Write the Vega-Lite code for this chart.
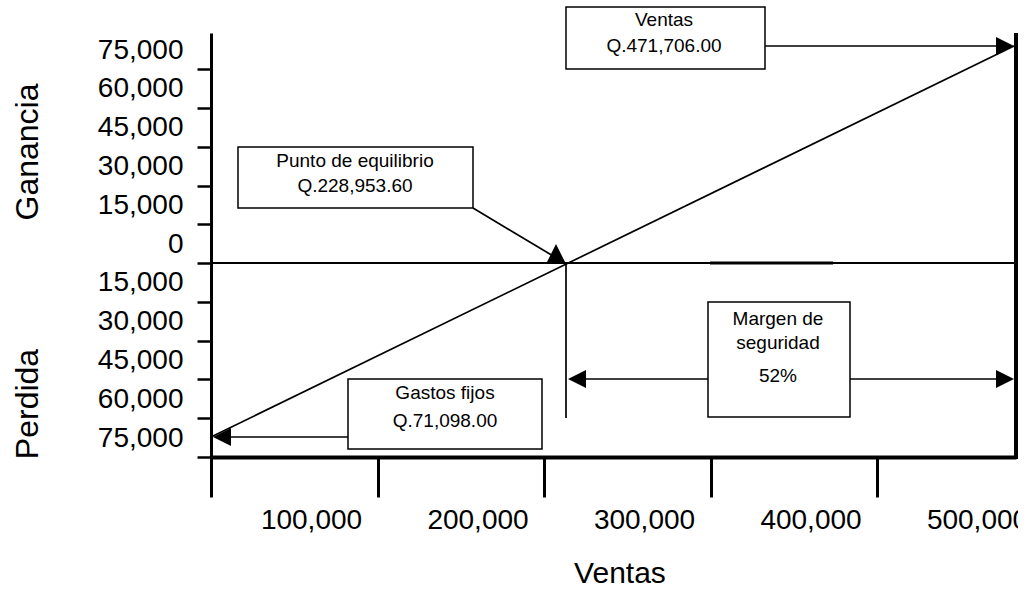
{
  "$schema": "https://vega.github.io/schema/vega-lite/v6.json",
  "width": 805,
  "height": 424,
  "autosize": {"type": "none"},
  "padding": {"left": 211, "top": 33, "right": 2, "bottom": 135},
  "background": "white",
  "config": {"view": {"stroke": null}, "font": "Liberation Sans"},
  "encoding": {
    "x": {
      "field": "x", "type": "quantitative",
      "scale": {"domain": [0, 483483], "nice": false, "zero": false},
      "axis": {
        "values": [0, 100000, 200000, 300000, 400000],
        "labelExpr": "format(datum.value + 100000, ',')",
        "labelOffset": 100, "tickSize": 40, "tickWidth": 3, "tickColor": "black",
        "domainColor": "black", "domainWidth": 4,
        "labelFont": "Liberation Sans", "labelFontSize": 28, "labelColor": "black",
        "labelPadding": 9, "labelFlush": false, "labelOverlap": false, "labelBound": false,
        "grid": false, "title": null
      }
    },
    "y": {
      "field": "y", "type": "quantitative",
      "scale": {"domain": [-75000, 89000], "nice": false, "zero": false},
      "axis": {
        "values": [-75000, -60000, -45000, -30000, -15000, 0, 15000, 30000, 45000, 60000, 75000],
        "labelExpr": "format(abs(datum.value), ',')",
        "labelOffset": -19, "tickSize": 14, "tickWidth": 2.5, "tickColor": "black",
        "domainColor": "black", "domainWidth": 3,
        "labelFont": "Liberation Sans", "labelFontSize": 28, "labelColor": "black",
        "labelPadding": 14, "labelOverlap": false, "labelBound": false, "labelFlush": false,
        "grid": false, "title": null
      }
    }
  },
  "layer": [
    {
      "data": {"values": [{"x": 0, "y": 0, "x2": 485285, "y2": 0}]},
      "mark": {"type": "rule", "color": "black", "strokeWidth": 2},
      "encoding": {"x2": {"field": "x2"}, "y2": {"field": "y2"}}
    },
    {
      "data": {"values": [{"x": 299700, "y": 0, "x2": 373573, "y2": 0}]},
      "mark": {"type": "rule", "color": "black", "strokeWidth": 3},
      "encoding": {"x2": {"field": "x2"}, "y2": {"field": "y2"}}
    },
    {
      "data": {"values": [
        {"x": 0, "y": -67264, "x2": 482282, "y2": 83972},
        {"x": 213213, "y": 0, "x2": 213213, "y2": -59918},
        {"x": 332732, "y": 83972, "x2": 476876, "y2": 83972},
        {"x": 157357, "y": 21310, "x2": 212612, "y2": 0},
        {"x": 219820, "y": -44833, "x2": 476876, "y2": -44833},
        {"x": 82282, "y": -67264, "x2": 6607, "y2": -67264}
      ]},
      "mark": {"type": "rule", "color": "black", "strokeWidth": 1.7},
      "encoding": {"x2": {"field": "x2"}, "y2": {"field": "y2"}}
    },
    {
      "data": {"values": [{"x": 483483, "y": -75800, "x2": 483483, "y2": 89000}]},
      "mark": {"type": "rule", "color": "black", "strokeWidth": 4},
      "encoding": {"x2": {"field": "x2"}, "y2": {"field": "y2"}}
    },
    {
      "data": {"values": [
        {"x": 213213, "x2": 332732, "y": 99057, "y2": 75075},
        {"x": 16216, "x2": 157357, "y": 44905, "y2": 21310},
        {"x": 298498, "x2": 383783, "y": -15049, "y2": -59531},
        {"x": 82282, "x2": 198799, "y": -44833, "y2": -71909}
      ]},
      "mark": {"type": "rect", "fill": "white", "stroke": "black", "strokeWidth": 1.5},
      "encoding": {"x2": {"field": "x2"}, "y2": {"field": "y2"}}
    },
    {
      "data": {"values": [
        {"x": 476876, "y": 83972, "dir": "right"},
        {"x": 476876, "y": -44833, "dir": "right"},
        {"x": 219820, "y": -44833, "dir": "left"},
        {"x": 6607, "y": -67264, "dir": "left"},
        {"x": 207207, "y": 3904, "dir": "up"}
      ]},
      "mark": {"type": "point", "filled": true, "color": "black", "opacity": 1, "size": 324, "strokeWidth": 0},
      "encoding": {
        "shape": {
          "field": "dir", "type": "nominal",
          "scale": {"domain": ["right", "left", "up"], "range": ["M1,0L-1,-1L-1,1Z", "M-1,0L1,-1L1,1Z", "M0,-1L-1,1L1,1Z"]},
          "legend": null
        }
      }
    },
    {
      "data": {"values": [
        {"x": 272072, "y": 94028, "label": "Ventas"},
        {"x": 272072, "y": 83972, "label": "Q.471,706.00"},
        {"x": 86486, "y": 39490, "label": "Punto de equilibrio"},
        {"x": 86486, "y": 29820, "label": "Q.228,953.60"},
        {"x": 340540, "y": -21625, "label": "Margen de"},
        {"x": 340540, "y": -30908, "label": "seguridad"},
        {"x": 340540, "y": -43672, "label": "52%"},
        {"x": 140540, "y": -50248, "label": "Gastos fijos"},
        {"x": 140540, "y": -61078, "label": "Q.71,098.00"}
      ]},
      "mark": {"type": "text", "font": "Liberation Sans", "fontSize": 19, "color": "black", "align": "center", "baseline": "middle"},
      "encoding": {"text": {"field": "label"}}
    },
    {
      "data": {"values": [
        {"x": -109910, "y": 42971, "label": "Ganancia"},
        {"x": -109910, "y": -54503, "label": "Perdida"}
      ]},
      "mark": {"type": "text", "font": "Liberation Sans", "fontSize": 32, "color": "black", "align": "center", "baseline": "middle", "angle": 270},
      "encoding": {"text": {"field": "label"}}
    },
    {
      "data": {"values": [{"x": 245645, "y": -120300, "label": "Ventas"}]},
      "mark": {"type": "text", "font": "Liberation Sans", "fontSize": 30, "color": "black", "align": "center", "baseline": "middle"},
      "encoding": {"text": {"field": "label"}}
    }
  ]
}
